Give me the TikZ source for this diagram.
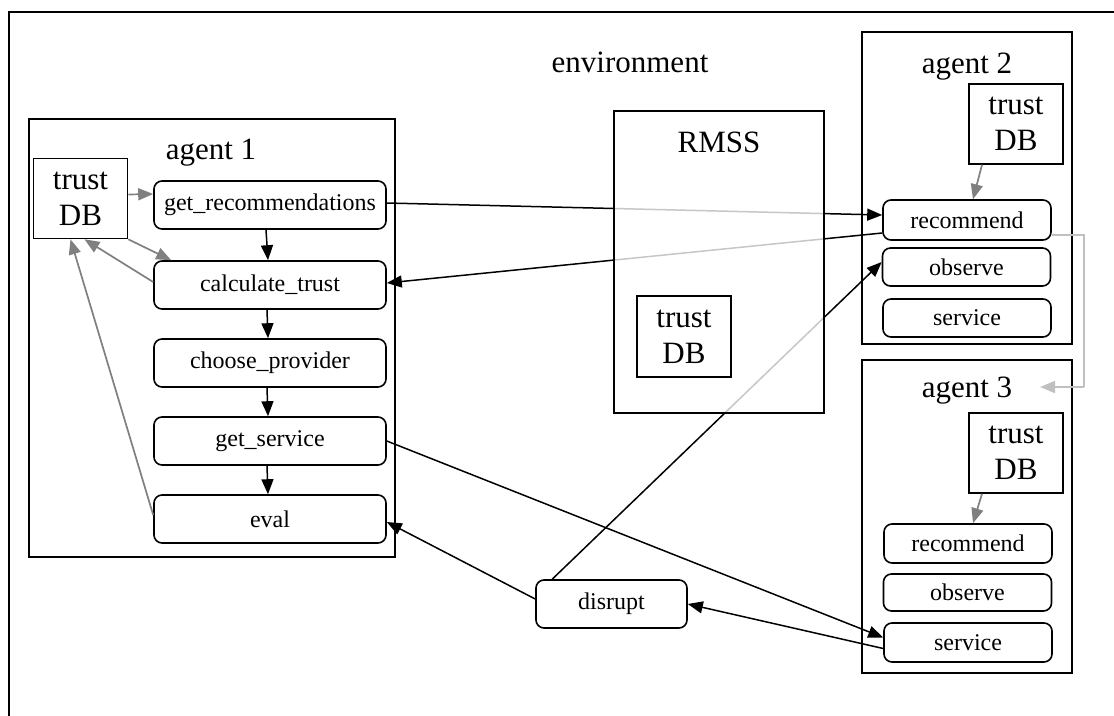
\documentclass[tikz,border=0pt]{standalone}
\usepackage{fontspec}
\setmainfont{Liberation Serif}
\usetikzlibrary{arrows.meta}
\definecolor{feedgray}{HTML}{808080}
\definecolor{forwardgray}{HTML}{C0C0C0}
\begin{document}
\begin{tikzpicture}[x=1pt,y=-1pt,
  bigtxt/.style={font=\fontsize{31}{36}\selectfont, inner sep=0pt, anchor=base},
  container/.style={draw, line width=1.8pt, inner sep=0pt},
  proc/.style={draw, rounded corners=8pt, line width=1.6pt, inner sep=0pt,
    minimum width=232pt, minimum height=48pt, font=\fontsize{24}{28}\selectfont},
  role/.style={proc, minimum width=168pt, minimum height=38pt},
  db/.style={draw, line width=1.6pt, inner sep=0pt, align=center,
    minimum width=94pt, minimum height=80pt, font=\fontsize{31}{36}\selectfont},
  flow/.style={line width=1.5pt, -{Triangle[length=15pt,width=12pt]}},
  feed/.style={flow, color=feedgray, line width=1.7pt},
  forward/.style={flow, color=forwardgray, line width=1.7pt},
]
\useasboundingbox (0,0) rectangle (1114,715);
\clip (0,0) rectangle (1114,715);
\fill[white] (0,0) rectangle (1114,715);

% environment frame
\draw[line width=2pt] (9,760) -- (9,11.5) -- (1180,11.5);
\node[bigtxt] (envlabel) at (630,72) {environment};

% agent 1
\node[container, minimum width=366pt, minimum height=438pt] (agent1) at (212,338) {};
\node[bigtxt] (a1label) at (211,159) {agent 1};
\node[db] (db1) at (80.5,198.5) {trust\\DB};
\node[proc] (getrec) at (270,205) {get\_recommendations};
\node[proc] (calc) at (270,285) {calculate\_trust};
\node[proc] (choose) at (270,363) {choose\_provider};
\node[proc] (getserv) at (270,441) {get\_service};
\node[proc] (eval) at (270,519) {eval};

% agent 2
\node[container, minimum width=210pt, minimum height=312pt] (agent2) at (967,188) {};
\node[bigtxt] (a2label) at (967,73) {agent 2};
\node[db] (db2) at (1016,124) {trust\\DB};
\node[role, minimum height=40pt] (rec2) at (967,220) {recommend};
\node[role] (obs2) at (966.5,267) {observe};
\node[role] (serv2) at (967,318) {service};

% agent 3
\node[container, minimum width=210pt, minimum height=313pt] (agent3) at (967,516.5) {};
\node[bigtxt] (a3label) at (967,397) {agent 3};
\node[db] (db3) at (1016,453) {trust\\DB};
\node[role, minimum height=39pt] (rec3) at (968,543.5) {recommend};
\node[role, minimum height=37pt] (obs3) at (967.5,592.5) {observe};
\node[role, minimum height=39pt] (serv3) at (968,642.5) {service};

% disruption
\node[proc, minimum width=151pt] (disrupt) at (611.5,604) {disrupt};

% control flow inside agent 1
\draw[flow] ([xshift=-4pt]getrec.south) -- ([xshift=-2pt]calc.north);
\draw[flow] ([xshift=-3pt]calc.south) -- ([xshift=-2pt]choose.north);
\draw[flow] ([xshift=-3pt]choose.south) -- ([xshift=-2pt]getserv.north);
\draw[flow] ([xshift=-3pt]getserv.south) -- ([xshift=-2pt]eval.north);

% trust database access
\draw[feed] ([yshift=4pt]db1.east) -- ([yshift=11pt]getrec.west);
\draw[feed] (db1.south east) -- ([xshift=18pt]calc.north west);
\draw[feed] ([yshift=3pt]calc.west) -- ([xshift=4pt]db1.south);
\draw[feed] ([yshift=4pt]eval.west) -- ([xshift=-10pt]db1.south);
\draw[feed] ([xshift=-34pt]db2.south) -- ([xshift=6pt]rec2.north);
\draw[feed] ([xshift=-34pt]db3.south) -- ([xshift=5pt]rec3.north);

% messages between agents
\draw[flow] ([yshift=2pt]getrec.east) -- ([yshift=5pt]rec2.west);
\draw[flow] ([yshift=-13pt]rec2.west) -- ([yshift=2pt]calc.east);
\draw[flow] ([xshift=17pt]disrupt.north west) -- ([yshift=5pt]obs2.west);
\draw[flow] (getserv.east) -- ([yshift=5pt]serv3.west);
\draw[flow] ([yshift=-6pt]serv3.west) -- (disrupt.east);
\draw[flow] ([yshift=5pt]disrupt.west) -- ([yshift=-3pt]eval.east);

% forwarded recommendation
\coordinate (turn) at (1084,387);
\coordinate (a3in) at (1040,387);
\draw[forward, -] ([yshift=-15pt]rec2.east) -| (turn);
\draw[forward] (turn) -- (a3in);

% reputation management subsystem (translucent, lines show through faintly)
\node[container, fill=white, fill opacity=0.78, draw opacity=1,
  minimum width=210pt, minimum height=302pt] (rmss) at (719,262) {};
\node[bigtxt] (rmsslabel) at (719,152) {RMSS};
\node[db, minimum height=81pt] (dbR) at (684,336.5) {trust\\DB};
\end{tikzpicture}
\end{document}
